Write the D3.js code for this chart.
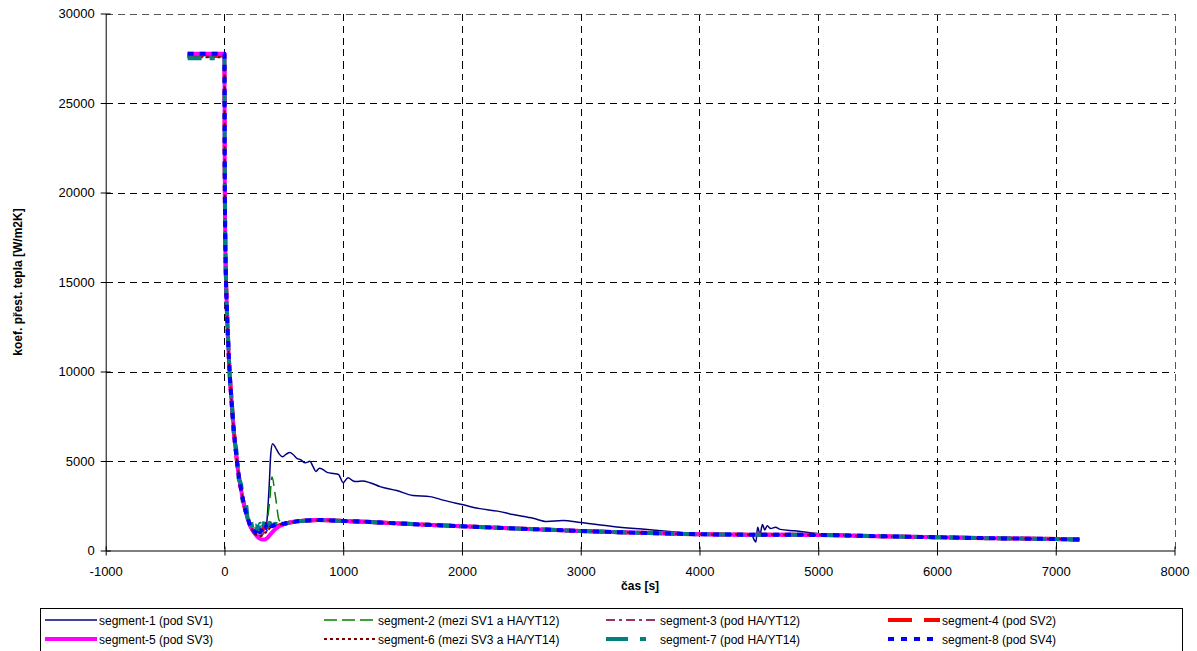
<!DOCTYPE html>
<html>
<head>
<meta charset="utf-8">
<script src="https://cdn.jsdelivr.net/npm/d3@7"></script>
<style>
  html, body { margin: 0; padding: 0; background: #fff; }
  svg { display: block; }
  text { font-family: "Liberation Sans", Arial, sans-serif; }
</style>
</head>
<body>
<svg id="chart" width="1197" height="651"></svg>
<script>
// ---- data ----------------------------------------------------------------
const xTicks = [-1000, 0, 1000, 2000, 3000, 4000, 5000, 6000, 7000, 8000];
const yTicks = [0, 5000, 10000, 15000, 20000, 25000, 30000];

const seriesNames = [
  "segment-1 (pod SV1)",
  "segment-2 (mezi SV1 a HA/YT12)",
  "segment-3 (pod HA/YT12)",
  "segment-4 (pod SV2)",
  "segment-5 (pod SV3)",
  "segment-6 (mezi SV3 a HA/YT14)",
  "segment-7 (pod HA/YT14)",
  "segment-8 (pod SV4)"
];

// time [s] for segment-1
const time1 = [-310, 0, 2, 5, 10, 20, 30, 45, 60, 80, 100, 120, 140, 160, 180, 200, 220, 240, 260, 280, 300, 320, 340, 355,
  365, 378, 390, 405, 430, 460, 490, 520, 550, 580, 610, 640, 680, 720, 745, 770, 800, 830, 870, 920, 960, 1000, 1040,
  1080, 1115, 1160, 1225, 1310, 1450, 1587, 1730, 1850, 2000, 2150, 2300, 2430, 2600, 2715, 2850, 3000, 3270, 3560,
  3840, 4000, 4200, 4440, 4460, 4475, 4490, 4510, 4530, 4550, 4570, 4600, 4640, 4680, 4800, 4990, 5100, 5500, 6000,
  6500, 7000, 7200];
const seg1 = [27650, 27650, 22000, 18500, 16000, 13600, 11800, 9800, 8300, 6600, 5300, 4200, 3400, 2700, 2150, 1700, 1400,
  1200, 1050, 1000, 1050, 1150, 1300, 1500,
  2300, 3800, 5400, 5970, 5750, 5400, 5240, 5380, 5470, 5350, 5150, 5075, 4900, 4980, 4700, 4420, 4600, 4520, 4350,
  4300, 4250, 3790, 4070, 3900, 3850, 3880, 3790, 3570, 3350, 3070, 3010, 2800, 2570, 2340, 2200, 2010, 1800, 1620,
  1670, 1560, 1340, 1170, 1000, 900, 880, 870, 600, 480, 1300, 900, 1450, 1150, 1380, 1230, 1300, 1180, 1100, 950,
  890, 800, 740, 680, 640, 610];

// shared time [s] for segments 2-8
const timeN = [-310, 0, 2, 5, 10, 20, 30, 45, 60, 80, 100, 120, 140, 160, 180, 200, 220, 240, 260, 280, 300, 320, 340,
  360, 380, 400, 430, 460, 500, 550, 600, 700, 800, 900, 1000, 1200, 1400, 1600, 1800, 2000, 2500, 3000, 3500, 4000,
  4500, 5000, 5500, 6000, 6500, 7000, 7200];

const seg2 = [27550, 27550, 22000, 18500, 16000, 13600, 11800, 9800, 8300, 6600, 5300, 4200, 3400, 2700, 2150, 1700, 1400,
  1150, 1000, 950, 1000, 1100, 1250, 1700, 2700, 4100, 3000, 1700, 1500, 1560, 1620, 1680, 1700, 1680, 1650, 1600,
  1530, 1470, 1410, 1350, 1220, 1090, 990, 910, 880, 870, 800, 740, 680, 640, 610];
const seg3 = [27600, 27600, 22000, 18500, 16000, 13600, 11800, 9800, 8300, 6600, 5300, 4200, 3400, 2700, 2150, 1700, 1350,
  1100, 950, 850, 820, 900, 1050, 1200, 1300, 1350, 1400, 1430, 1480, 1560, 1620, 1680, 1700, 1680, 1650, 1600,
  1530, 1470, 1410, 1350, 1220, 1090, 990, 910, 880, 870, 800, 740, 680, 640, 610];
const seg4 = [27700, 27700, 22000, 18500, 16000, 13600, 11800, 9800, 8300, 6600, 5300, 4200, 3400, 2700, 2150, 1700, 1350,
  1100, 920, 860, 900, 1100, 1500, 1400, 1250, 1200, 1300, 1400, 1480, 1560, 1620, 1680, 1700, 1680, 1650, 1600,
  1530, 1470, 1410, 1350, 1220, 1090, 990, 910, 880, 870, 800, 740, 680, 640, 610];
const seg5 = [27750, 27750, 22000, 18500, 16000, 13600, 11800, 9800, 8300, 6600, 5300, 4200, 3400, 2700, 2150, 1700, 1350,
  1100, 900, 760, 660, 610, 620, 700, 850, 1000, 1200, 1350, 1470, 1560, 1620, 1680, 1700, 1680, 1650, 1600,
  1530, 1470, 1410, 1350, 1220, 1090, 990, 910, 880, 870, 800, 740, 680, 640, 610];
const seg6 = [27550, 27550, 22000, 18500, 16000, 13600, 11800, 9800, 8300, 6600, 5300, 4200, 3400, 2700, 2150, 1700, 1350,
  1080, 900, 820, 800, 850, 950, 1100, 1250, 1350, 1420, 1450, 1490, 1560, 1620, 1680, 1700, 1680, 1650, 1600,
  1530, 1470, 1410, 1350, 1220, 1090, 990, 910, 880, 870, 800, 740, 680, 640, 610];
const seg7 = [27500, 27500, 22200, 18800, 16200, 13400, 12000, 9600, 8500, 6400, 5600, 4000, 3700, 2500, 2600, 1600, 1700,
  1150, 1400, 1100, 1500, 1200, 1650, 1300, 1550, 1400, 1500, 1450, 1500, 1560, 1620, 1680, 1700, 1680, 1650, 1600,
  1530, 1470, 1410, 1350, 1220, 1090, 990, 910, 880, 870, 800, 740, 680, 640, 610];
const seg8 = [27750, 27750, 22000, 18500, 16000, 13600, 11800, 9800, 8300, 6600, 5300, 4200, 3400, 2700, 2150, 1750, 1300,
  1150, 1000, 1250, 1000, 1300, 1500, 1200, 1450, 1350, 1450, 1480, 1500, 1560, 1620, 1680, 1700, 1680, 1650, 1600,
  1530, 1470, 1410, 1350, 1220, 1090, 990, 910, 880, 870, 800, 740, 680, 640, 610];

// ---- styles ----------------------------------------------------------------
const styles = [
  { color: "#000080", width: 1.5, dash: null,          legendDash: null },
  { color: "#008000", width: 1.5, dash: "12,6",        legendDash: "13,5" },
  { color: "#993366", width: 2,   dash: "9,4,3,4",     legendDash: "9,4,3,4" },
  { color: "#ff0000", width: 4,   dash: "16,8",        legendDash: "24,12" },
  { color: "#ff00ff", width: 4,   dash: null,          legendDash: null },
  { color: "#800000", width: 2,   dash: "3,3",         legendDash: "3,3" },
  { color: "#008080", width: 4,   dash: "14,8,5,8",    legendDash: "22,12,6,12" },
  { color: "#0000ff", width: 4,   dash: "6,6",         legendDash: "6,7" }
];

const seriesTimes = [time1, timeN, timeN, timeN, timeN, timeN, timeN, timeN];
const seriesValues = [seg1, seg2, seg3, seg4, seg5, seg6, seg7, seg8];

// ---- layout ----------------------------------------------------------------
const svg = d3.select("#chart");
const plot = { left: 105.7, right: 1174.5, top: 13.5, bottom: 550.5 };

const x = d3.scaleLinear().domain([-1000, 8000]).range([plot.left, plot.right]);
const y = d3.scaleLinear().domain([0, 30000]).range([plot.bottom, plot.top]);

// plain hyphen-minus, no thousands separator
const plainNumber = d => String(d);

// grid
const grid = svg.append("g").attr("stroke", "#000").attr("stroke-width", 1)
  .attr("stroke-dasharray", "7,5").attr("fill", "none").attr("shape-rendering", "crispEdges");
grid.selectAll("line.v").data(xTicks.filter(d => d > -1000)).join("line")
  .attr("class", "v")
  .attr("x1", d => Math.round(x(d)) + 0.5).attr("x2", d => Math.round(x(d)) + 0.5)
  .attr("y1", plot.top).attr("y2", plot.bottom)
  .attr("stroke", d => d === 8000 ? "#555" : "#000");
grid.selectAll("line.h").data(yTicks.filter(d => d > 0)).join("line")
  .attr("class", "h")
  .attr("x1", plot.left).attr("x2", plot.right)
  .attr("y1", d => Math.round(y(d)) + 0.5).attr("y2", d => Math.round(y(d)) + 0.5)
  .attr("stroke", d => d === 30000 ? "#555" : "#000");

// series
svg.append("clipPath").attr("id", "plotclip").append("rect")
  .attr("x", plot.left).attr("y", plot.top - 4)
  .attr("width", plot.right - plot.left).attr("height", plot.bottom - plot.top + 4);

const line = d3.line().x(d => x(d[0])).y(d => y(d[1])).curve(d3.curveMonotoneX);
const lines = svg.append("g").attr("clip-path", "url(#plotclip)");
seriesValues.forEach((vals, i) => {
  const pts = seriesTimes[i].map((t, k) => [t, vals[k]]);
  const s = styles[i];
  lines.append("path")
    .datum(pts)
    .attr("d", line)
    .attr("fill", "none")
    .attr("stroke", s.color)
    .attr("stroke-width", s.width)
    .attr("stroke-linejoin", "round")
    .attr("stroke-dasharray", s.dash);
});

// axes
const yAxis = d3.axisLeft(y).tickValues(yTicks).tickSizeInner(5).tickSizeOuter(0).tickPadding(6)
  .tickFormat(plainNumber);
const gy = svg.append("g").attr("transform", `translate(${plot.left},0)`).call(yAxis);
gy.selectAll(".tick line").attr("x1", 5);
gy.selectAll("text").attr("font-size", 13).attr("font-family", "Liberation Sans, Arial, sans-serif").attr("fill", "#000");
gy.select(".domain").attr("stroke", "#000");

const xAxis = d3.axisBottom(x).tickValues(xTicks).tickSizeInner(5).tickSizeOuter(0).tickPadding(11)
  .tickFormat(plainNumber);
const gx = svg.append("g").attr("transform", `translate(0,${plot.bottom})`).call(xAxis);
gx.selectAll(".tick line").attr("y1", -4);
gx.selectAll("text").attr("font-size", 13).attr("font-family", "Liberation Sans, Arial, sans-serif").attr("fill", "#000");
gx.select(".domain").attr("stroke", "#000");

// axis titles
svg.append("text")
  .attr("x", (plot.left + plot.right) / 2).attr("y", 590)
  .attr("text-anchor", "middle").attr("font-size", 12).attr("font-weight", "bold")
  .text("čas [s]");
svg.append("text")
  .attr("transform", `translate(22,${(plot.top + plot.bottom) / 2}) rotate(-90)`)
  .attr("text-anchor", "middle").attr("font-size", 12).attr("font-weight", "bold")
  .text("koef. přest. tepla [W/m2K]");

// legend
const legend = svg.append("g");
legend.append("rect")
  .attr("x", 40.5).attr("y", 608.5).attr("width", 1142).attr("height", 52)
  .attr("fill", "#fff").attr("stroke", "#000").attr("stroke-width", 1);
const colX = [45, 324, 606, 888];
const rowY = [620, 639];
seriesNames.forEach((name, i) => {
  const col = i % 4, row = Math.floor(i / 4);
  const s = styles[i];
  const g = legend.append("g").attr("transform", `translate(${colX[col]},${rowY[row]})`);
  g.append("line").attr("x1", 0).attr("x2", 52).attr("y1", 0).attr("y2", 0)
    .attr("stroke", s.color).attr("stroke-width", s.width).attr("stroke-dasharray", s.legendDash);
  g.append("text").attr("x", 54).attr("y", 4.5).attr("font-size", 12).text(name);
});
</script>
</body>
</html>
